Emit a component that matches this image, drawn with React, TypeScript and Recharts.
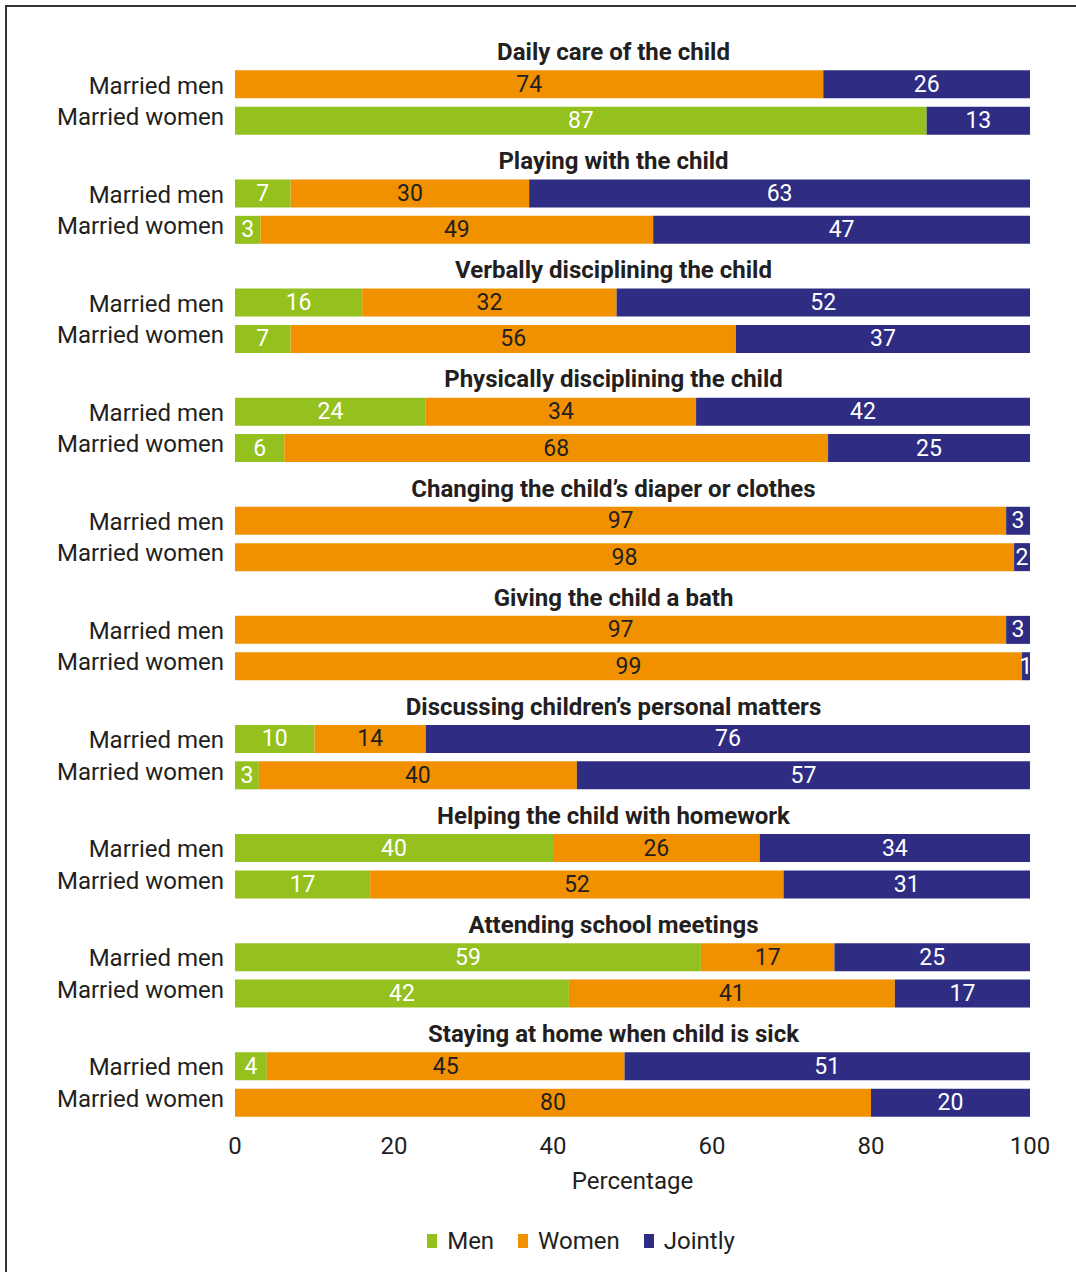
import React from 'react';
import { BarChart, Bar, XAxis, YAxis, Legend, LabelList } from 'recharts';

// ---- Data ----
const ACTIVITIES = [
  'Daily care of the child',
  'Playing with the child',
  'Verbally disciplining the child',
  'Physically disciplining the child',
  'Changing the child\u2019s diaper or clothes',
  'Giving the child a bath',
  'Discussing children\u2019s personal matters',
  'Helping the child with homework',
  'Attending school meetings',
  'Staying at home when child is sick',
];

const RESPONDENTS = ['Married men', 'Married women'];

// [Men, Women, Jointly] for married men respondents (labels show rounded values)
const MEN_RESP = [
  [0, 74, 26],
  [7, 30, 63],
  [16, 32, 52],
  [24, 34, 42],
  [0, 97, 3],
  [0, 97, 3],
  [10, 14, 76],
  [40, 26, 34],
  [58.6, 16.8, 24.6],
  [4, 45, 51],
];

// [Men, Women, Jointly] for married women respondents
const WOMEN_RESP = [
  [87, 0, 13],
  [3.2, 49.4, 47.4],
  [7, 56, 37],
  [6.2, 68.4, 25.4],
  [0, 98, 2],
  [0, 99, 1],
  [3, 40, 57],
  [17, 52, 31],
  [42, 41, 17],
  [0, 80, 20],
];

const SERIES = [
  { key: 'men', name: 'Men', color: '#95C11F', labelColor: '#FFFFFF' },
  { key: 'women', name: 'Women', color: '#F29100', labelColor: '#231F20' },
  { key: 'jointly', name: 'Jointly', color: '#2E2D83', labelColor: '#FFFFFF' },
];

const X_TICKS = [0, 20, 40, 60, 80, 100];

// ---- Layout constants ----
const W = 1076;
const H = 1272;
const MARGIN = { top: 30, right: 46, bottom: 16, left: 0 };
const Y_AXIS_W = 235;
const X_AXIS_H = 105;
const LEGEND_H = 30;
const PLOT_LEFT = MARGIN.left + Y_AXIS_W;
const PLOT_W = W - PLOT_LEFT - MARGIN.right;
const TITLE_CX = PLOT_LEFT + PLOT_W / 2 - 19;
const FONT = 'Roboto, "Noto Sans", sans-serif';
const TEXT = '#231F20';

type Row = { id: string; kind: 'title' | 'men' | 'women'; label: string; men?: number; women?: number; jointly?: number };

const rows: Row[] = [];
ACTIVITIES.forEach((act, i) => {
  rows.push({ id: `t${i}`, kind: 'title', label: act });
  const m = MEN_RESP[i];
  rows.push({ id: `m${i}`, kind: 'men', label: RESPONDENTS[0], men: m[0], women: m[1], jointly: m[2] });
  const w = WOMEN_RESP[i];
  rows.push({ id: `w${i}`, kind: 'women', label: RESPONDENTS[1], men: w[0], women: w[1], jointly: w[2] });
});
const rowById: Record<string, Row> = {};
rows.forEach((r) => (rowById[r.id] = r));

const RowTick = (props: any) => {
  const { x, y, payload } = props;
  const row = rowById[payload.value];
  if (!row) return null;
  if (row.kind === 'title') {
    return (
      <text x={TITLE_CX} y={y + 4} textAnchor="middle" dominantBaseline="central"
        fontFamily={FONT} fontSize={24} fontWeight={700} fill={TEXT}>
        {row.label}
      </text>
    );
  }
  const dy = row.kind === 'women' ? -4 : 1;
  return (
    <text x={x} y={y + dy} textAnchor="end" dominantBaseline="central"
      fontFamily={FONT} fontSize={24} fill={TEXT}>
      {row.label}
    </text>
  );
};

const makeValueLabel = (color: string) => (props: any) => {
  const { x, y, width, height, value } = props;
  if (value === undefined || value === null || Number(value) <= 0) return null;
  return (
    <text x={Number(x) + Number(width) / 2} y={Number(y) + Number(height) / 2}
      textAnchor="middle" dominantBaseline="central"
      fontFamily={FONT} fontSize={23} fill={color}>
      {Math.round(Number(value))}
    </text>
  );
};

const LegendContent = () => (
  <div style={{
    display: 'flex', justifyContent: 'center', alignItems: 'center',
    height: LEGEND_H, paddingLeft: 110, boxSizing: 'border-box',
    fontFamily: FONT, fontSize: 24, color: TEXT,
  }}>
    {SERIES.map((s) => (
      <div key={s.key} style={{ display: 'flex', alignItems: 'center', marginRight: 24 }}>
        <svg width={10} height={14} style={{ marginRight: 10 }}>
          <rect x={0} y={0} width={10} height={14} fill={s.color} />
        </svg>
        <span>{s.name}</span>
      </div>
    ))}
  </div>
);

export default function App() {
  return (
    <div style={{ position: 'absolute', left: 0, top: 0, width: W, height: H, background: '#fff' }}>
      <div style={{
        position: 'absolute', left: 5, top: 5, width: W, height: H,
        borderTop: '2px solid #333', borderLeft: '2px solid #333', boxSizing: 'border-box',
      }} />
      <div style={{ position: 'absolute', left: 0, top: 0 }}>
        <BarChart width={W} height={H} data={rows} layout="vertical" margin={MARGIN} barSize={28}>
          <XAxis type="number" domain={[0, 100]} ticks={X_TICKS} allowDataOverflow
            axisLine={false} tickLine={false} tickMargin={10} height={X_AXIS_H}
            tick={{ fontFamily: FONT, fontSize: 24, fill: TEXT }}
            label={{ value: 'Percentage', position: 'insideBottom', offset: 37,
              style: { fontFamily: FONT, fontSize: 24, fill: TEXT } }} />
          <YAxis type="category" dataKey="id" width={Y_AXIS_W} interval={0}
            axisLine={false} tickLine={false} tickMargin={5} tick={<RowTick />} />
          {SERIES.map((s) => (
            <Bar key={s.key} dataKey={s.key} name={s.name} stackId="a" fill={s.color}
              isAnimationActive={false}>
              <LabelList dataKey={s.key} content={makeValueLabel(s.labelColor)} />
            </Bar>
          ))}
          <Legend verticalAlign="bottom" width={W} wrapperStyle={{ left: 0 }} content={<LegendContent />} />
        </BarChart>
      </div>
    </div>
  );
}
